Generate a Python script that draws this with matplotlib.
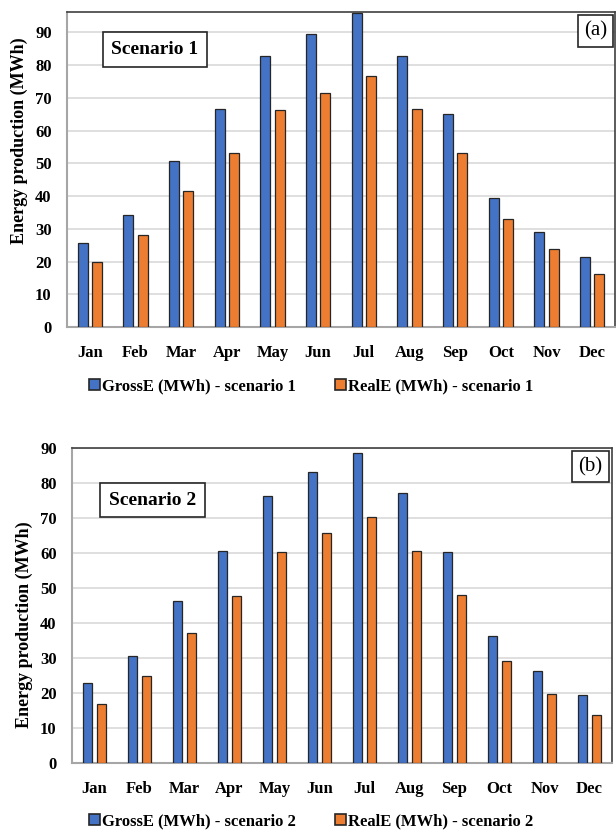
import matplotlib.pyplot as plt
from matplotlib.patches import Patch
import numpy as np

# ─────────────────── data ────────────────────

months = ["Jan", "Feb", "Mar", "Apr", "May", "Jun",
          "Jul", "Aug", "Sep", "Oct", "Nov", "Dec"]

gross_s1 = [25.6, 34.2, 50.7, 66.5, 82.8, 89.6, 96.0, 82.8, 65.0, 39.4, 29.1, 21.3]
real_s1 = [20.0, 28.2, 41.6, 53.0, 66.4, 71.6, 76.7, 66.5, 53.0, 33.0, 23.9, 16.1]

gross_s2 = [23.0, 30.6, 46.3, 60.6, 76.3, 83.2, 88.7, 77.2, 60.4, 36.4, 26.3, 19.4]
real_s2 = [16.9, 25.0, 37.2, 47.6, 60.2, 65.8, 70.2, 60.6, 48.0, 29.1, 19.8, 13.7]

BLUE = "#4472C4"
ORANGE = "#ED7D31"
EDGE = "#262626"

plt.rcParams["font.family"] = ["Liberation Serif", "DejaVu Serif"]

fig = plt.figure(figsize=(6.16, 8.30), dpi=100)


def draw_panel(rect, gross, real, ylim_top, scen, tag, label_x, label_y, leg_y, scen_box, tag_box):
    ax = fig.add_axes(rect)
    x = np.arange(len(months))
    w = 0.22
    ax.bar(x - 0.155, gross, w, color=BLUE, edgecolor=EDGE, linewidth=0.9, zorder=3)
    ax.bar(x + 0.155, real, w, color=ORANGE, edgecolor=EDGE, linewidth=0.9, zorder=3)

    ax.set_xlim(-0.5, len(months) - 0.5)
    ax.set_ylim(0, ylim_top)
    ax.set_yticks(range(0, 100, 10))
    ax.set_xticks(x)
    ax.set_xticklabels(months, fontsize=12, fontweight="bold")
    for t in ax.get_yticklabels():
        t.set_fontsize(12)
        t.set_fontweight("bold")
    ax.tick_params(length=0, pad=11)
    ax.tick_params(axis="x", pad=13)
    ax.yaxis.grid(True, color="#d9d9d9", linewidth=1.2, zorder=0)
    ax.set_axisbelow(True)
    for s in ["left", "bottom"]:
        ax.spines[s].set_color("#a6a6a6")
        ax.spines[s].set_linewidth(1.5)
    for s in ["top", "right"]:
        ax.spines[s].set_color("#404040")
        ax.spines[s].set_linewidth(1.2)

    ax.set_ylabel("Energy production (MWh)", fontsize=13, fontweight="bold")
    ax.yaxis.set_label_coords(label_x, label_y)

    # scenario box
    bx0, by0, bx1, by1 = scen_box
    fig.text((bx0 + bx1) / 2 / 616, 1 - (by0 + by1) / 2 / 830, scen,
             ha="center", va="center", fontsize=14, fontweight="bold",
             bbox=dict(boxstyle="square,pad=0.45", fc="white", ec="#262626", lw=1.2))
    # panel tag
    tx0, ty0, tx1, ty1 = tag_box
    fig.text((tx0 + tx1) / 2 / 616, 1 - (ty0 + ty1) / 2 / 830, tag,
             ha="center", va="center", fontsize=15,
             bbox=dict(boxstyle="square,pad=0.3", fc="white", ec="#262626", lw=1.2))

    handles = [Patch(facecolor=BLUE, edgecolor=EDGE, lw=1.2),
               Patch(facecolor=ORANGE, edgecolor=EDGE, lw=1.2)]
    n = scen.split()[-1]
    fig.legend(handles, [f"GrossE (MWh) - scenario {n}", f"RealE (MWh) - scenario {n}"],
               loc="center", bbox_to_anchor=(0.505, leg_y), ncol=2, frameon=False,
               prop=dict(family="Liberation Serif", weight="bold", size=12),
               handlelength=0.65, handleheight=0.65, handletextpad=0.1, columnspacing=2.4)
    return ax


draw_panel([67 / 616, 1 - 327 / 830, 548 / 616, 315 / 830], gross_s1, real_s1, 96.2,
           "Scenario 1", "(a)", -0.071, 0.59, 1 - 386 / 830, (100, 30, 210, 69), (577, 13, 614, 49))
draw_panel([72 / 616, 1 - 763 / 830, 540 / 616, 315 / 830], gross_s2, real_s2, 90,
           "Scenario 2", "(b)", -0.072, 0.44, 1 - 821 / 830, (97, 481, 208, 519), (571, 449, 610, 484))

fig.savefig("out.png", dpi=100)
